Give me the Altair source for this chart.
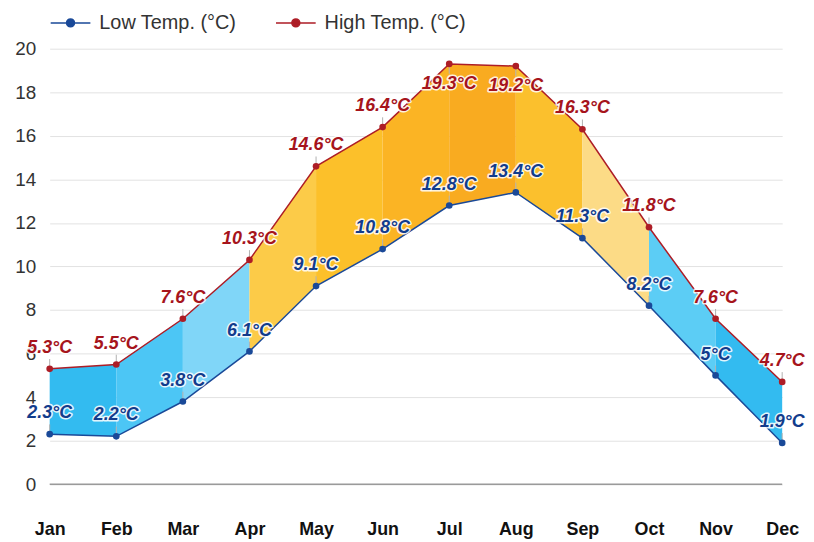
import altair as alt
import pandas as pd

months = ["Jan", "Feb", "Mar", "Apr", "May", "Jun", "Jul", "Aug", "Sep", "Oct", "Nov", "Dec"]
low = [2.3, 2.2, 3.8, 6.1, 9.1, 10.8, 12.8, 13.4, 11.3, 8.2, 5.0, 1.9]
high = [5.3, 5.5, 7.6, 10.3, 14.6, 16.4, 19.3, 19.2, 16.3, 11.8, 7.6, 4.7]
band_colors = ["#33bbf0", "#4cc6f5", "#80d6f8", "#fccb48", "#fcc02a", "#fbb424",
               "#f9ab20", "#fbc02d", "#fcdb86", "#5ccdf5", "#33bbf0"]
series_names = ["Low Temp. (°C)", "High Temp. (°C)"]
series_colors = ["#1a4998", "#ad1d26"]
label_colors = ["#123c8c", "#a6141c"]
y_ticks = list(range(0, 21, 2))

# band segments
seg_rows = []
for i in range(len(months) - 1):
    for j in (i, i + 1):
        seg_rows.append({"seg": str(i), "x": j, "low": low[j], "high": high[j]})
seg_df = pd.DataFrame(seg_rows)

long_rows = []
for name, vals in zip(series_names, [low, high]):
    for i, v in enumerate(vals):
        long_rows.append({"series": name, "x": i, "value": v})
long_df = pd.DataFrame(long_rows)

zero_df = pd.DataFrame({"y": [0]})

month_expr = "[" + ",".join(f"'{m}'" for m in months) + "][datum.value]"

xscale = alt.Scale(domain=[0, 11], nice=False)
yscale = alt.Scale(domain=[-1.1, 20], nice=False)

x_axis = alt.Axis(values=list(range(12)), labelExpr=month_expr, title=None, ticks=False,
                  domain=False, grid=False, labelFontSize=18, labelFontWeight="bold",
                  labelColor="#111", labelPadding=12, labelFont="Liberation Sans",
                  labelFlush=False, labelBound=False, labelOverlap=False)
y_axis = alt.Axis(values=y_ticks, title=None, ticks=False, domain=False, grid=True,
                  gridColor="#e2e2e2", labelFontSize=19, labelColor="#333",
                  labelPadding=14, labelFont="Liberation Sans")

band = alt.Chart(seg_df).mark_area(opacity=1).encode(
    x=alt.X("x:Q", scale=xscale, axis=x_axis),
    y=alt.Y("low:Q", scale=yscale, axis=y_axis),
    y2="high:Q",
    fill=alt.Fill("seg:N", scale=alt.Scale(domain=[str(i) for i in range(11)], range=band_colors), legend=None),
    detail="seg:N",
)

zero = alt.Chart(zero_df).mark_rule(color="#9a9a9a", strokeWidth=1.5).encode(y="y:Q")

color = alt.Color("series:N", scale=alt.Scale(domain=series_names, range=series_colors),
                  legend=alt.Legend(title=None, orient="none", direction="horizontal",
                                    legendX=0, legendY=-47, labelFontSize=20, labelColor="#333",
                                    labelFont="Liberation Sans",
                                    symbolType="M-1,0L1,0M-0.2,0a0.2,0.2 0 1,0 0.4,0a0.2,0.2 0 1,0 -0.4,0",
                                    symbolSize=1600, symbolStrokeWidth=1.5, labelOffset=8,
                                    columnPadding=36, padding=0))

lines = alt.Chart(long_df).mark_line(strokeWidth=1.5).encode(
    x="x:Q", y="value:Q", color=color)

conn = alt.Chart(long_df).transform_calculate(
    y2="datum.value > 19 ? datum.value - 0.45 : datum.value + 0.45"
).mark_rule(color="#b0b0b0", strokeWidth=1).encode(x="x:Q", y="value:Q", y2="y2:Q")

points = alt.Chart(long_df).mark_point(filled=True, size=45, opacity=1).encode(
    x="x:Q", y="value:Q", color=color)

txt_color = alt.condition(alt.datum.series == series_names[0],
                          alt.value(label_colors[0]), alt.value(label_colors[1]))

def labels(filter_expr, dy):
    base = alt.Chart(long_df).transform_filter(filter_expr).transform_calculate(
        label="datum.value + '°C'")
    common = dict(font="Liberation Sans", fontSize=18, fontStyle="italic", fontWeight="bold",
                  baseline="middle", align="center", dy=dy)
    halo = base.mark_text(stroke="white", strokeWidth=3, strokeJoin="round", fill="white",
                          strokeOpacity=0.85, **common).encode(x="x:Q", y="value:Q", text="label:N")
    front = base.mark_text(**common).encode(x="x:Q", y="value:Q", text="label:N", color=txt_color)
    return [halo, front]

above = labels("datum.value <= 19", -21)
below = labels("datum.value > 19", 20)

chart = alt.layer(band, zero, conn, lines, points, *above, *below).properties(
    width=738, height=463, autosize="none",
    padding={"left": 42, "top": 39, "right": 24, "bottom": 30},
).configure_view(stroke=None)

chart.save("out.html", embed_options={"renderer": "svg", "actions": False})
